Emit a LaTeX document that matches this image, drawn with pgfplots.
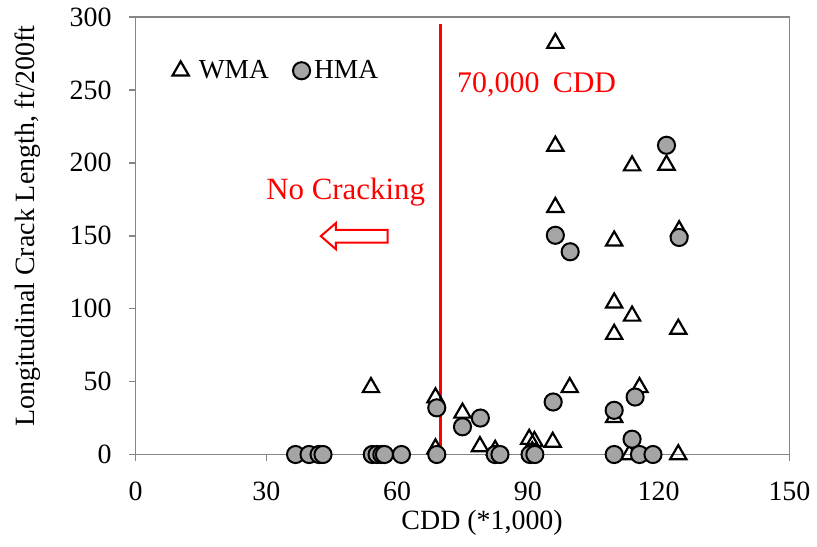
\documentclass[border=0pt]{standalone}
\usepackage{fontspec}
\setmainfont{Liberation Serif}
\usepackage{pgfplots}
\pgfplotsset{compat=1.18}
\definecolor{axgray}{RGB}{134,134,134}
\definecolor{markgray}{RGB}{165,165,165}
\begin{document}
\begin{tikzpicture}
\begin{axis}[
 name=ax,
 scale only axis,
 width=328pt, height=219.5pt,
 xmin=0, xmax=150, ymin=0, ymax=300,
 xtick={0,30,...,150}, ytick={0,50,...,300},
 axis line style={axgray, line width=0.8pt},
 tick style={axgray, line width=0.8pt},
 tick align=outside,
 major tick length=3.5pt,
 xtick pos=bottom, ytick pos=left,
 /pgf/number format/assume math mode=true,
 /pgf/number format/1000 sep={},
 ticklabel style={font=\fontsize{14}{16}\selectfont, black},
 xticklabel style={yshift=-6.5pt},
 yticklabel style={xshift=-5pt},
 label style={font=\fontsize{14}{16}\selectfont},
 xlabel={CDD (*1,000)},
 ylabel={Longitudinal Crack Length, ft/200ft},
 xlabel style={at={(axis description cs:0.53,-0.155)}, anchor=center},
 ylabel style={at={(axis description cs:-0.165,0.522)}, anchor=center},
 legend columns=2,
 legend style={draw=none, fill=none, at={(axis description cs:0.056,0.877)}, anchor=west, font=\fontsize{13.8}{16}\selectfont, inner sep=0pt, /tikz/every even column/.append style={column sep=10pt}},
 legend image code/.code={\draw[mark repeat=2,mark phase=2,#1] plot coordinates {(0pt,0pt)(5pt,0pt)(10pt,0pt)};},
 legend cell align=left,
 clip=false,
]
\addplot[only marks, mark=triangle, mark size=4.7pt, mark options={line width=1.1pt, draw=black}] coordinates {
(96.3,282) (96.3,211.5) (96.3,169.5) (109.8,146.5) (113.9,198) (121.8,198.5)
(124.7,153.5) (109.8,104) (113.9,95) (109.8,82.5) (124.5,86) (54,46)
(68.8,39) (75,28.5) (99.6,46) (115.6,46) (109.8,25.5) (79,5.5) (82.5,3)
(90.3,10.5) (91.5,9) (95.7,8.5) (68.8,4) (113.3,0) (124.5,0) (91,2)
};
\addlegendentry{\hspace{3pt}WMA}
\addplot[only marks, mark=*, mark size=4.3pt, mark options={line width=1pt, draw=black, fill=markgray}] coordinates {
(121.8,212) (96.3,150.3) (99.7,139) (124.7,148.8) (95.8,36) (114.6,39.4)
(109.8,30.3) (113.9,10.5) (69.1,32) (75,19) (79.1,25)
(36.7,0) (39.8,0) (42.1,0) (43,0) (54.3,0) (55.4,0) (56.5,0) (57.1,0) (61,0)
(69.1,0) (82.5,0) (83.6,0) (90.5,0) (91.6,0) (109.8,0) (115.6,0) (118.7,0)
};
\addlegendentry{HMA}
\addplot[red, line width=1.3pt, forget plot] coordinates {(70,0) (70,295)};
\node[anchor=base west, text=red, font=\fontsize{15}{18}\selectfont, inner sep=0pt] at (axis cs:73.7,248) {70,000\hspace{0.45em}CDD};
\node[anchor=base west, text=red, font=\fontsize{15.5}{18}\selectfont, inner sep=0pt] at (axis cs:29.9,175) {No Cracking};
\draw[red, line width=1pt, fill=white] (axis cs:42.5,149.7) -- ++(7.5pt,6.5pt) -- ++(0,-3.3pt) -- ++(26pt,0) -- ++(0,-6.4pt) -- ++(-26pt,0) -- ++(0,-3.3pt) -- cycle;
\end{axis}
\path ([shift={(-68pt,-46pt)}]ax.south west) rectangle ([shift={(12.5pt,8.5pt)}]ax.north east);
\end{tikzpicture}
\end{document}
